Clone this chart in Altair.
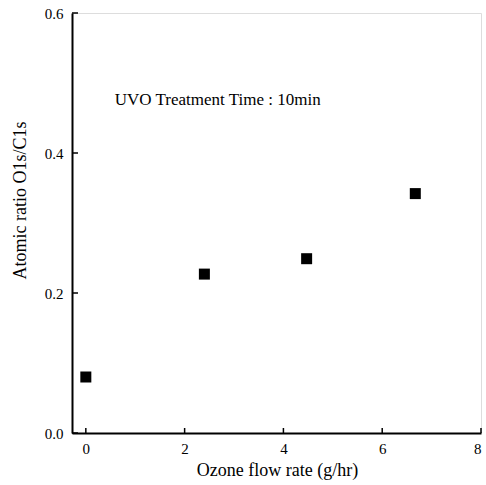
import altair as alt
import pandas as pd

flow = [0.0, 2.4, 4.47, 6.67]
ratio = [0.08, 0.227, 0.249, 0.342]
x_ticks = [0, 2, 4, 6, 8]
y_ticks = [0.0, 0.2, 0.4, 0.6]
note = "UVO Treatment Time : 10min"

df = pd.DataFrame({"flow": flow, "ratio": ratio})
xt = pd.DataFrame({"v": x_ticks})
yt = pd.DataFrame({"v": y_ticks})

font = "Liberation Serif"
xs = alt.Scale(domain=[-0.28, 8], nice=False, zero=False)
ys = alt.Scale(domain=[0, 0.6], nice=False)

pts = alt.Chart(df).mark_square(size=121, color="black", opacity=1).encode(
    x=alt.X("flow:Q", scale=xs, title="Ozone flow rate (g/hr)",
            axis=alt.Axis(values=x_ticks, tickSize=0, labelPadding=8, grid=False,
                          domainColor="black", domainWidth=2, labelFontSize=15,
                          titleFontSize=18, titleFont=font, labelFont=font,
                          titleFontWeight="normal", labelColor="black",
                          titleColor="black", titleX=205, titleY=37,
                          titleBaseline="middle", titleAlign="center")),
    y=alt.Y("ratio:Q", scale=ys, title="Atomic ratio  O1s/C1s",
            axis=alt.Axis(values=y_ticks, format=".1f", tickSize=0, labelPadding=9,
                          grid=False, domainColor="black", domainWidth=2,
                          labelFontSize=15, titleFontSize=18, labelFont=font,
                          titleFont=font, titleFontWeight="normal",
                          labelColor="black", titleColor="black",
                          titleX=-52, titleY=187, titleBaseline="middle",
                          titleAlign="center")),
)

xtick = alt.Chart(xt).mark_rule(color="black", strokeWidth=1.5).encode(
    x=alt.X("v:Q", scale=xs), y=alt.value(420), y2=alt.value(415))
ytick = alt.Chart(yt).mark_rule(color="black", strokeWidth=1.5).encode(
    y=alt.Y("v:Q", scale=ys), x=alt.value(0), x2=alt.value(6))

txt = alt.Chart(pd.DataFrame({"x": [0.586], "y": [0.476], "t": [note]})).mark_text(
    align="left", baseline="middle", font=font, fontSize=17, color="black").encode(
    x=alt.X("x:Q", scale=xs), y=alt.Y("y:Q", scale=ys), text="t:N")

chart = alt.layer(pts, xtick, ytick, txt).properties(
    width=409, height=420,
    autosize=alt.AutoSizeParams(type="none"),
    padding={"left": 72, "top": 13, "right": 5, "bottom": 52},
).configure_view(stroke="black", strokeWidth=2).configure(background="white")

chart.save("out.html", embed_options={"renderer": "svg", "actions": False})
